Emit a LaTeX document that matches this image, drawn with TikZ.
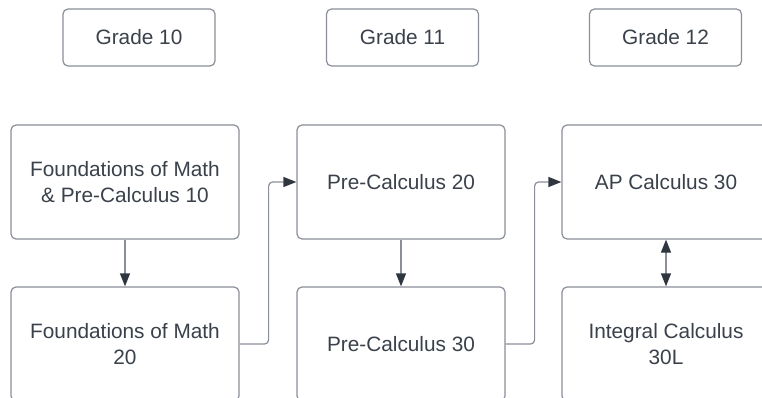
\documentclass[tikz,border=0pt]{standalone}
\usepackage{fontspec}
\setmainfont{Liberation Sans}
\usetikzlibrary{arrows.meta}
\definecolor{txtc}{HTML}{3A414A}
\definecolor{bordc}{HTML}{8A8F98}
\definecolor{tipc}{HTML}{2F3640}
\tikzset{
  box/.style={draw=bordc, line width=1.2pt, rounded corners=5pt, fill=white,
    text=txtc, align=center, inner sep=0pt,
    font=\fontsize{20.8}{26}\selectfont},
  gradebox/.style={box, minimum width=152pt, minimum height=57pt},
  widebox/.style={box, minimum width=228pt, minimum height=114pt},
  midbox/.style={box, minimum width=208pt, minimum height=114pt},
  conn/.style={draw=bordc, line width=1.2pt, rounded corners=4pt},
  tipend/.style={-{Triangle[length=13pt,width=10pt,color=tipc,fill=tipc]}},
  tipboth/.style={{Triangle[length=13pt,width=10pt,color=tipc,fill=tipc]}-{Triangle[length=13pt,width=10pt,color=tipc,fill=tipc]}}
}
\begin{document}
\begin{tikzpicture}[x=1pt,y=-1pt]
\useasboundingbox (0,0) rectangle (762,398);
\clip (0,0) rectangle (762,398);
\node[gradebox] (g10) at (139,37.5) {Grade 10};
\node[gradebox] (g11) at (402.5,37.5) {Grade 11};
\node[gradebox] (g12) at (665.5,37.5) {Grade 12};

\node[widebox] (f10) at (125,182) {Foundations of Math\\\& Pre-Calculus 10};
\node[widebox] (f20) at (125,344) {Foundations of Math\\20};
\node[midbox] (p20) at (401,182) {Pre-Calculus 20};
\node[midbox] (p30) at (401,344) {Pre-Calculus 30};
\node[midbox] (ap) at (666,182) {AP Calculus 30};
\node[midbox] (ic) at (666,344) {Integral Calculus\\30L};

\draw[conn, tipend] (f10.south) -- (f20.north);
\draw[conn, tipend] (p20.south) -- (p30.north);
\draw[conn, tipboth] (ap.south) -- (ic.north);
\draw[conn, tipend] (f20.east) -- ++(29,0) |- (p20.west);
\draw[conn, tipend] (p30.east) -- ++(29,0) |- (ap.west);
\end{tikzpicture}
\end{document}
